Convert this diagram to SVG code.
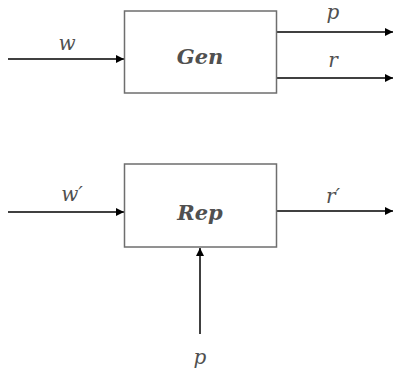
<svg xmlns="http://www.w3.org/2000/svg" width="393" height="376" viewBox="0 0 393 376">
<style>
.box{fill:#fff;stroke:#6e6e6e;stroke-width:1.5}
.ln{stroke:#000;stroke-width:1.5;fill:none}
.t{font-family:"DejaVu Serif","Liberation Serif",serif;font-style:italic;fill:#505050;font-size:20px;text-anchor:middle}
.b{font-weight:bold;font-size:21px}
</style>
<defs>
<marker id="ah" viewBox="0 0 10 10" refX="10" refY="5" markerWidth="8" markerHeight="8" markerUnits="userSpaceOnUse" orient="auto">
<path d="M0,0 L10,5 L0,10 z" fill="#000"/>
</marker>
</defs>
<g id="connectors">
<line class="ln" x1="8" y1="59" x2="124" y2="59" marker-end="url(#ah)"/>
<line class="ln" x1="277" y1="32" x2="393" y2="32" marker-end="url(#ah)"/>
<line class="ln" x1="277" y1="78" x2="393" y2="78" marker-end="url(#ah)"/>
<line class="ln" x1="8" y1="212" x2="124" y2="212" marker-end="url(#ah)"/>
<line class="ln" x1="277" y1="211" x2="393" y2="211" marker-end="url(#ah)"/>
<line class="ln" x1="200" y1="334" x2="200" y2="248" marker-end="url(#ah)"/>
</g>
<g id="gen">
<rect class="box" x="124.5" y="11" width="152" height="82"/>
<text class="t b" x="200" y="64">Gen</text>
</g>
<g id="rep">
<rect class="box" x="124.5" y="164" width="152" height="83"/>
<text class="t b" x="200" y="220">Rep</text>
</g>
<g id="labels">
<text class="t" x="67" y="50">w</text>
<text class="t" x="333" y="19">p</text>
<text class="t" x="333" y="67">r</text>
<text class="t" x="72" y="201">w′</text>
<text class="t" x="333" y="203">r′</text>
<text class="t" x="200" y="364">p</text>
</g>
</svg>
